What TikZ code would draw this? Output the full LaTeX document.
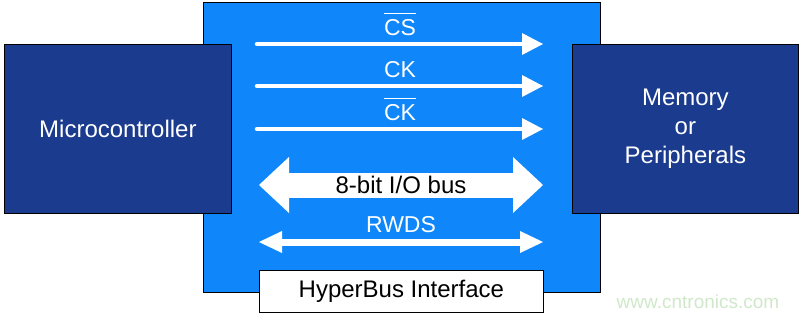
\documentclass[tikz,border=0pt]{standalone}
\usepackage{fontspec}
\setmainfont{Liberation Sans}
\definecolor{hyperBlue}{HTML}{0F87FA}
\definecolor{hyperNavy}{HTML}{1A3B8E}
\definecolor{hyperMark}{HTML}{CFE8C9}
\usetikzlibrary{arrows.meta, positioning}
\newcommand{\sigbar}[1]{\setbox0\hbox{#1}\rlap{\rule[\dimexpr\ht0+5pt\relax]{\wd0}{1.4pt}}#1}

\begin{document}
\begin{tikzpicture}[
    x=1pt, y=-1pt,
    panel/.style={
      draw=black,
      fill=hyperBlue,
      line width=0.8pt,
      inner sep=0pt,
      anchor=north west,
      minimum width=397pt,
      minimum height=290pt,
    },
    chip/.style={
      draw=black,
      fill=hyperNavy,
      text=white,
      line width=0.8pt,
      inner sep=0pt,
      anchor=north west,
      minimum width=227pt,
      minimum height=169pt,
      align=center,
      font=\fontsize{24}{29}\selectfont,
    },
    tag/.style={draw=black, fill=white, line width=0.8pt, inner sep=0pt, anchor=north west,
      minimum width=284pt, minimum height=42pt, font=\fontsize{24}{28}\selectfont},
    lbl/.style={text=white, inner sep=0pt, above=6pt, font=\fontsize{23}{26}\selectfont},
    sig/.style={-{Triangle[length=21pt, width=22pt, line width=0pt]}, white, line width=4.5pt, line cap=round},
    rw/.style={{Triangle[length=23pt, width=22pt, line width=0pt]}-{Triangle[length=23pt, width=22pt, line width=0pt]}, white, line width=7pt},
    bus/.style={{Triangle[length=30pt, width=56pt, line width=0pt]}-{Triangle[length=30pt, width=56pt, line width=0pt]}, white, line width=25pt},
  ]
    \useasboundingbox (0,0) rectangle (800,317);

    % Interface panel
    \node[panel] (panel) at (203,2) {};

    % Both ends
    \node[chip] (mcu) at (4,44) {Microcontroller};
    \node[chip, minimum width=226pt] (mem) at (572,44) {Memory\\or\\Peripherals};

    % Interface name
    \node[tag] (hbname) at (259,270) {HyperBus Interface};

    % Signal end points
    \coordinate (csA) at (257,44);   \coordinate (csB) at (543,44);
    \coordinate (ckA) at (257,86);   \coordinate (ckB) at (543,86);
    \coordinate (cknA) at (257,129); \coordinate (cknB) at (543,129);
    \coordinate (ioA) at (259,185);  \coordinate (ioB) at (543,185);
    \coordinate (rwA) at (259,242);  \coordinate (rwB) at (543,242);

    % Signals
    \draw[sig] (csA) -- node[lbl] (cslbl) {\sigbar{CS}} (csB);
    \draw[sig] (ckA) -- node[lbl] (cklbl) {CK} (ckB);
    \draw[sig] (cknA) -- node[lbl] (cknlbl) {\sigbar{CK}} (cknB);
    \draw[bus] (ioA) -- node[text=black, anchor=base, yshift=-8pt, inner sep=0pt,
      font=\fontsize{24}{28}\selectfont] (iolbl) {8-bit I/O bus} (ioB);
    \draw[rw] (rwA) -- node[lbl] (rwlbl) {RWDS} (rwB);

    % Watermark
    \node[text=hyperMark, anchor=base, inner sep=0pt, font=\fontsize{19}{22}\selectfont] (mark) at (698,308) {www.cntronics.com};
  \end{tikzpicture}
\end{document}
